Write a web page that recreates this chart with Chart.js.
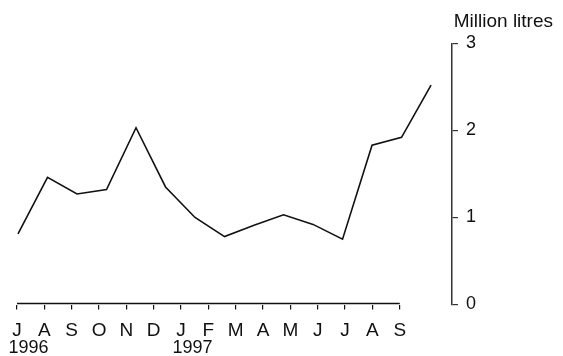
<!DOCTYPE html>
<html>
<head>
<meta charset="utf-8">
<script src="https://cdn.jsdelivr.net/npm/chart.js@4.4.0/dist/chart.umd.min.js"></script>
<style>
  html, body { margin: 0; padding: 0; background: #fff; }
  #wrap { width: 563px; height: 356px; }
</style>
</head>
<body>
<div id="wrap"><canvas id="chart" width="563" height="356"></canvas></div>
<script>
// Month labels, July 1996 to September 1997
const months = ['J', 'A', 'S', 'O', 'N', 'D', 'J', 'F', 'M', 'A', 'M', 'J', 'J', 'A', 'S'];
// Year labels and the month index they sit under
const years = ['1996', '1997'];
const yearMonth = [0, 6];
// Volume, million litres
const volume = [0.81, 1.46, 1.27, 1.32, 2.03, 1.35, 1.00, 0.78, 0.91, 1.03, 0.92, 0.75, 1.83, 1.92, 2.52];
const yTicks = [0, 1, 2, 3];

const ink = '#111';
const family = '"Liberation Sans", Arial, sans-serif';
const font = { family: family, size: 18, lineHeight: 1 };

// draws the x axis line only between the first and last month tick
const xLine = {
    id: 'xLine',
    afterDraw(chart) {
        const sx = chart.scales.x;
        const ctx = chart.ctx;
        ctx.save();
        ctx.strokeStyle = ink;
        ctx.lineWidth = 1.3;
        ctx.beginPath();
        ctx.moveTo(sx.getPixelForValue(0), chart.chartArea.bottom - 1);
        ctx.lineTo(sx.getPixelForValue(months.length - 1), chart.chartArea.bottom - 1);
        ctx.stroke();
        ctx.restore();
    }
};

new Chart(document.getElementById('chart').getContext('2d'), {
    type: 'line',
    data: {
        datasets: [{
            data: volume.map((v, i) => ({ x: i, y: v })),
            xAxisID: 'xd',
            borderColor: ink,
            borderWidth: 1.6,
            pointRadius: 0,
            tension: 0
        }]
    },
    options: {
        responsive: false,
        animation: false,
        layout: { padding: { top: 10, right: 10, bottom: 0, left: 17 } },
        plugins: {
            legend: { display: false },
            tooltip: { enabled: false },
            title: {
                display: true,
                text: 'Million litres',
                align: 'end',
                color: ink,
                font: { family: family, size: 19, lineHeight: 1.2, weight: 'normal' },
                padding: { top: 0, bottom: 10.5 }
            }
        },
        scales: {
            xd: {
                type: 'linear',
                display: false,
                min: -0.034,
                max: 14.71
            },
            x: {
                type: 'linear',
                position: 'bottom',
                weight: 0,
                min: 0,
                max: 15.91,
                afterBuildTicks: (s) => { s.ticks = months.map((m, i) => ({ value: i })); },
                afterFit: (s) => { s.height = 35; },
                border: { display: false },
                grid: { drawOnChartArea: false, drawTicks: true, tickLength: 5, color: ink, lineWidth: 1.2 },
                ticks: {
                    autoSkip: false,
                    maxRotation: 0,
                    padding: 12,
                    color: ink,
                    font: { family: family, size: 19, lineHeight: 1 },
                    callback: (v) => months[v]
                }
            },
            yr: {
                type: 'linear',
                position: 'bottom',
                weight: 1,
                min: 0,
                max: 15.91,
                afterBuildTicks: (s) => { s.ticks = yearMonth.map((i) => ({ value: i + 0.42 })); },
                afterFit: (s) => { s.height = 16.5; },
                border: { display: false },
                grid: { display: false, drawTicks: false },
                ticks: {
                    autoSkip: false,
                    maxRotation: 0,
                    padding: 0,
                    color: ink,
                    font: font,
                    callback: (v, i) => years[i]
                }
            },
            y: {
                position: 'right',
                min: 0,
                max: 3,
                afterBuildTicks: (s) => { s.ticks = yTicks.map((t) => ({ value: t })); },
                afterFit: (s) => { s.width = 101; },
                border: { display: true, color: '#333', width: 1.5 },
                grid: { drawOnChartArea: false, drawTicks: true, tickLength: 6, color: '#333', lineWidth: 1.2 },
                ticks: {
                    padding: 8,
                    color: ink,
                    font: font,
                    callback: (v) => v
                }
            }
        }
    },
    plugins: [xLine]
});
</script>
</body>
</html>
